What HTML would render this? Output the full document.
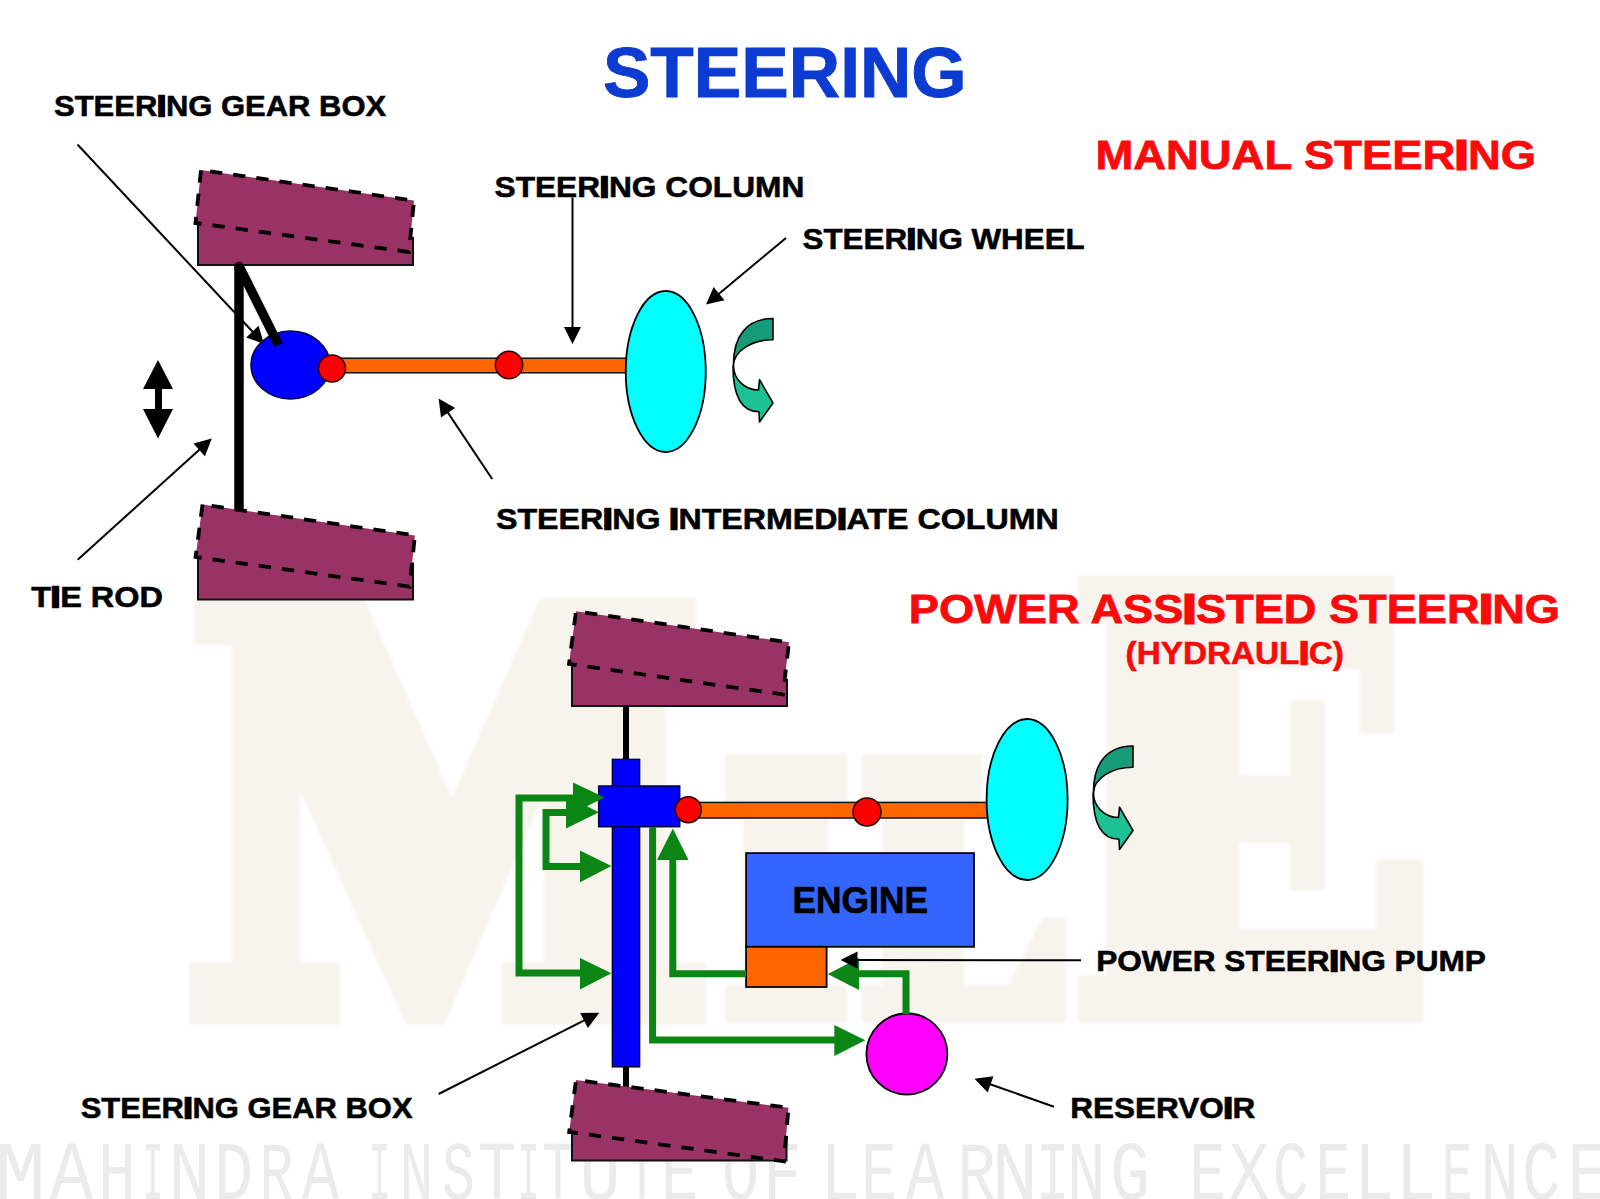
<!DOCTYPE html>
<html><head><meta charset="utf-8"><style>
html,body{margin:0;padding:0;background:#fff;width:1600px;height:1199px;overflow:hidden}
svg{display:block}
text{font-family:"Liberation Sans",sans-serif;font-weight:bold}
</style></head><body>
<svg width="1600" height="1199" viewBox="0 0 1600 1199">
<rect width="1600" height="1199" fill="#fff"/>
<defs><filter id="wb" x="-5%" y="-5%" width="110%" height="110%"><feGaussianBlur stdDeviation="1.8"/></filter></defs><g filter="url(#wb)">
<polygon points="197,601 362,601 452,805 542,601 693,601 693,642 663,642 663,965 703,965 703,1022 505,1022 505,965 547,965 547,779 442,1022 408,1022 297,777 297,965 337,965 337,1022 192,1022 192,965 235,965 235,642 197,642" fill="#f7f4ee" stroke="#f7f4ee" stroke-width="6" stroke-linejoin="round"/>
<polygon points="728,757 844,757 844,800 825,800 825,988 844,988 844,1020 728,1020 728,988 746,988 746,800 728,800" fill="#f7f4ee" stroke="#f7f4ee" stroke-width="6" stroke-linejoin="round"/>
<polygon points="865,757 979,757 979,800 961,800 961,988 1010,988 1044,921 1063,921 1063,1020 865,1020 865,988 885,988 885,800 865,800" fill="#f7f4ee" stroke="#f7f4ee" stroke-width="6" stroke-linejoin="round"/>
<polygon points="1081,578 1391,578 1391,731 1363,731 1363,666 1236,666 1236,778 1293,778 1293,703 1322,703 1322,887 1293,887 1293,840 1236,840 1236,932 1379,932 1379,862 1420,862 1420,1020 1081,1020 1081,978 1109,978 1109,620 1081,620" fill="#f7f4ee" stroke="#f7f4ee" stroke-width="6" stroke-linejoin="round"/>
</g>
<g fill="#ebebeb"><text x="-5.3" y="1199" font-size="83.5" textLength="51.3" lengthAdjust="spacingAndGlyphs" style="font-family:'Liberation Mono';font-weight:normal;stroke:none">M</text><text x="50.0" y="1199" font-size="83.5" textLength="43.0" lengthAdjust="spacingAndGlyphs" style="font-family:'Liberation Mono';font-weight:normal;stroke:none">A</text><text x="98.0" y="1199" font-size="83.5" textLength="38.0" lengthAdjust="spacingAndGlyphs" style="font-family:'Liberation Mono';font-weight:normal;stroke:none">H</text><text x="142.6" y="1199" font-size="83.5" textLength="20.9" lengthAdjust="spacingAndGlyphs" style="font-family:'Liberation Mono';font-weight:normal;stroke:none">I</text><text x="168.4" y="1199" font-size="83.5" textLength="42.1" lengthAdjust="spacingAndGlyphs" style="font-family:'Liberation Mono';font-weight:normal;stroke:none">N</text><text x="213.8" y="1199" font-size="83.5" textLength="39.5" lengthAdjust="spacingAndGlyphs" style="font-family:'Liberation Mono';font-weight:normal;stroke:none">D</text><text x="259.5" y="1199" font-size="83.5" textLength="33.9" lengthAdjust="spacingAndGlyphs" style="font-family:'Liberation Mono';font-weight:normal;stroke:none">R</text><text x="302.0" y="1199" font-size="83.5" textLength="37.0" lengthAdjust="spacingAndGlyphs" style="font-family:'Liberation Mono';font-weight:normal;stroke:none">A</text><text x="368.3" y="1199" font-size="83.5" textLength="22.4" lengthAdjust="spacingAndGlyphs" style="font-family:'Liberation Mono';font-weight:normal;stroke:none">I</text><text x="399.5" y="1199" font-size="83.5" textLength="34.0" lengthAdjust="spacingAndGlyphs" style="font-family:'Liberation Mono';font-weight:normal;stroke:none">N</text><text x="441.9" y="1199" font-size="83.5" textLength="32.8" lengthAdjust="spacingAndGlyphs" style="font-family:'Liberation Mono';font-weight:normal;stroke:none">S</text><text x="477.7" y="1199" font-size="83.5" textLength="38.7" lengthAdjust="spacingAndGlyphs" style="font-family:'Liberation Mono';font-weight:normal;stroke:none">T</text><text x="517.3" y="1199" font-size="83.5" textLength="22.4" lengthAdjust="spacingAndGlyphs" style="font-family:'Liberation Mono';font-weight:normal;stroke:none">I</text><text x="542.1" y="1199" font-size="83.5" textLength="31.9" lengthAdjust="spacingAndGlyphs" style="font-family:'Liberation Mono';font-weight:normal;stroke:none">T</text><text x="579.3" y="1199" font-size="83.5" textLength="41.6" lengthAdjust="spacingAndGlyphs" style="font-family:'Liberation Mono';font-weight:normal;stroke:none">U</text><text x="626.1" y="1199" font-size="83.5" textLength="31.9" lengthAdjust="spacingAndGlyphs" style="font-family:'Liberation Mono';font-weight:normal;stroke:none">T</text><text x="661.1" y="1199" font-size="83.5" textLength="37.1" lengthAdjust="spacingAndGlyphs" style="font-family:'Liberation Mono';font-weight:normal;stroke:none">E</text><text x="722.0" y="1199" font-size="83.5" textLength="37.1" lengthAdjust="spacingAndGlyphs" style="font-family:'Liberation Mono';font-weight:normal;stroke:none">O</text><text x="762.9" y="1199" font-size="83.5" textLength="38.6" lengthAdjust="spacingAndGlyphs" style="font-family:'Liberation Mono';font-weight:normal;stroke:none">F</text><text x="820.4" y="1199" font-size="83.5" textLength="39.8" lengthAdjust="spacingAndGlyphs" style="font-family:'Liberation Mono';font-weight:normal;stroke:none">L</text><text x="861.3" y="1199" font-size="83.5" textLength="35.8" lengthAdjust="spacingAndGlyphs" style="font-family:'Liberation Mono';font-weight:normal;stroke:none">E</text><text x="906.0" y="1199" font-size="83.5" textLength="38.0" lengthAdjust="spacingAndGlyphs" style="font-family:'Liberation Mono';font-weight:normal;stroke:none">A</text><text x="956.9" y="1199" font-size="83.5" textLength="38.7" lengthAdjust="spacingAndGlyphs" style="font-family:'Liberation Mono';font-weight:normal;stroke:none">R</text><text x="991.4" y="1199" font-size="83.5" textLength="46.7" lengthAdjust="spacingAndGlyphs" style="font-family:'Liberation Mono';font-weight:normal;stroke:none">N</text><text x="1036.0" y="1199" font-size="83.5" textLength="33.5" lengthAdjust="spacingAndGlyphs" style="font-family:'Liberation Mono';font-weight:normal;stroke:none">I</text><text x="1066.9" y="1199" font-size="83.5" textLength="38.7" lengthAdjust="spacingAndGlyphs" style="font-family:'Liberation Mono';font-weight:normal;stroke:none">N</text><text x="1110.3" y="1199" font-size="83.5" textLength="39.7" lengthAdjust="spacingAndGlyphs" style="font-family:'Liberation Mono';font-weight:normal;stroke:none">G</text><text x="1189.2" y="1199" font-size="83.5" textLength="36.4" lengthAdjust="spacingAndGlyphs" style="font-family:'Liberation Mono';font-weight:normal;stroke:none">E</text><text x="1228.9" y="1199" font-size="83.5" textLength="40.3" lengthAdjust="spacingAndGlyphs" style="font-family:'Liberation Mono';font-weight:normal;stroke:none">X</text><text x="1272.7" y="1199" font-size="83.5" textLength="35.8" lengthAdjust="spacingAndGlyphs" style="font-family:'Liberation Mono';font-weight:normal;stroke:none">C</text><text x="1315.3" y="1199" font-size="83.5" textLength="35.8" lengthAdjust="spacingAndGlyphs" style="font-family:'Liberation Mono';font-weight:normal;stroke:none">E</text><text x="1354.0" y="1199" font-size="83.5" textLength="40.2" lengthAdjust="spacingAndGlyphs" style="font-family:'Liberation Mono';font-weight:normal;stroke:none">L</text><text x="1395.9" y="1199" font-size="83.5" textLength="40.3" lengthAdjust="spacingAndGlyphs" style="font-family:'Liberation Mono';font-weight:normal;stroke:none">L</text><text x="1441.5" y="1199" font-size="83.5" textLength="31.2" lengthAdjust="spacingAndGlyphs" style="font-family:'Liberation Mono';font-weight:normal;stroke:none">E</text><text x="1480.5" y="1199" font-size="83.5" textLength="38.6" lengthAdjust="spacingAndGlyphs" style="font-family:'Liberation Mono';font-weight:normal;stroke:none">N</text><text x="1522.0" y="1199" font-size="83.5" textLength="38.7" lengthAdjust="spacingAndGlyphs" style="font-family:'Liberation Mono';font-weight:normal;stroke:none">C</text><text x="1567.6" y="1199" font-size="83.5" textLength="40.9" lengthAdjust="spacingAndGlyphs" style="font-family:'Liberation Mono';font-weight:normal;stroke:none">E</text></g>
<polygon points="198,212 413,238 413,265 198,265" fill="#993366" stroke="#111" stroke-width="2"/><polygon points="201,170 414,200.6 409,252 195.5,223" fill="#993366" stroke="#000" stroke-width="3.8" stroke-dasharray="12.3 11.05" stroke-dashoffset="14.2"/>
<polygon points="572,652 787,680 787,706 572,706" fill="#993366" stroke="#111" stroke-width="2"/><polygon points="576,611.3 789,642.3 783,694.4 569,664" fill="#993366" stroke="#000" stroke-width="3.8" stroke-dasharray="12.3 11.05" stroke-dashoffset="14.2"/>
<line x1="239" y1="267" x2="239" y2="512" stroke="#000" stroke-width="9.5"/>
<circle cx="239" cy="266.5" r="4.75" fill="#000"/>
<polygon points="198,549.5 413,563.5 413,599.5 198,599.5" fill="#993366" stroke="#111" stroke-width="2"/><polygon points="202.5,504.6 414.9,535.4 409.7,586.6 195.6,557" fill="#993366" stroke="#000" stroke-width="3.8" stroke-dasharray="12.3 11.05" stroke-dashoffset="14.2"/>
<ellipse cx="290.5" cy="365" rx="39.5" ry="34" fill="#0000ff" stroke="#000033" stroke-width="1.5"/>
<line x1="239" y1="266" x2="278.5" y2="345" stroke="#000" stroke-width="9.5"/>
<rect x="325" y="358.2" width="302" height="14.6" fill="#ff6600" stroke="#111" stroke-width="1.5"/>
<circle cx="332" cy="368.5" r="13.5" fill="#ff0000" stroke="#220000" stroke-width="1.5"/>
<circle cx="509" cy="365" r="13.7" fill="#ff0000" stroke="#220000" stroke-width="1.5"/>
<ellipse cx="665.75" cy="371.5" rx="40" ry="80.5" fill="#00ffff" stroke="#000" stroke-width="1.8"/>
<g transform="translate(0,0)"><path d="M773,318.5 L773,339.7 C751.2,339.7 733.5,351.3 733.5,365.7 C733,336 747,318.5 773,318.5 Z" fill="#169c78" stroke="#000" stroke-width="1.6" stroke-linejoin="round"/><path d="M733,365.7 C733,396 742,411.7 759,411.7 L759.5,422 L773,403 L759.5,379.7 L758.5,390 C744.7,390 733.5,379.1 733.5,365.7 Z" fill="#1cc294" stroke="#000" stroke-width="1.6" stroke-linejoin="round"/></g>
<polygon points="158,360 173,389 162,389 162,409 173,409 158,438.5 143,409 155,409 155,389 143,389" fill="#000"/>
<line x1="77.5" y1="144.5" x2="253.8" y2="333.0" stroke="#000" stroke-width="2"/><polygon points="264.0,344.0 246.2,337.4 258.6,325.8" fill="#000"/>
<line x1="572.5" y1="197.5" x2="572.5" y2="329.0" stroke="#000" stroke-width="2"/><polygon points="572.5,344.0 564.0,327.0 581.0,327.0" fill="#000"/>
<line x1="786" y1="238" x2="717.5" y2="294.9" stroke="#000" stroke-width="2"/><polygon points="706.0,304.5 713.6,287.1 724.5,300.2" fill="#000"/>
<line x1="492.2" y1="479" x2="446.9" y2="411.1" stroke="#000" stroke-width="2"/><polygon points="438.6,398.6 455.1,408.0 441.0,417.5" fill="#000"/>
<line x1="77.7" y1="559.7" x2="200.7" y2="448.6" stroke="#000" stroke-width="2"/><polygon points="211.8,438.5 204.9,456.2 193.5,443.6" fill="#000"/>
<line x1="626" y1="706" x2="626" y2="760" stroke="#000" stroke-width="6"/>
<line x1="626" y1="1066" x2="626" y2="1090" stroke="#000" stroke-width="6"/>
<polygon points="572,1115 786.5,1137 786.5,1160.5 572,1160.5" fill="#993366" stroke="#111" stroke-width="2"/><polygon points="576,1080 788.5,1107.7 784,1161.3 569.2,1132" fill="#993366" stroke="#000" stroke-width="3.8" stroke-dasharray="12.3 11.05" stroke-dashoffset="14.2"/>
<rect x="612.4" y="759.4" width="27.2" height="307.4" fill="#0000ff" stroke="#000033" stroke-width="1.5"/>
<rect x="598.7" y="786" width="81" height="40.7" fill="#0000ff" stroke="#000033" stroke-width="1.5"/>
<rect x="685" y="802.4" width="303" height="15.6" fill="#ff6600" stroke="#111" stroke-width="1.5"/>
<circle cx="688.3" cy="809.7" r="13" fill="#ff0000" stroke="#220000" stroke-width="1.5"/>
<circle cx="867" cy="812" r="14" fill="#ff0000" stroke="#220000" stroke-width="1.5"/>
<ellipse cx="1027.1" cy="799.5" rx="40.5" ry="80.5" fill="#00ffff" stroke="#000" stroke-width="1.8"/>
<g transform="translate(360,427.5)"><path d="M773,318.5 L773,339.7 C751.2,339.7 733.5,351.3 733.5,365.7 C733,336 747,318.5 773,318.5 Z" fill="#169c78" stroke="#000" stroke-width="1.6" stroke-linejoin="round"/><path d="M733,365.7 C733,396 742,411.7 759,411.7 L759.5,422 L773,403 L759.5,379.7 L758.5,390 C744.7,390 733.5,379.1 733.5,365.7 Z" fill="#1cc294" stroke="#000" stroke-width="1.6" stroke-linejoin="round"/></g>
<rect x="746.1" y="853.1" width="227.9" height="93.7" fill="#3366ff" stroke="#000" stroke-width="1.8"/>
<rect x="746.1" y="946.8" width="80.5" height="40.2" fill="#ff6600" stroke="#000" stroke-width="1.8"/>
<circle cx="906.9" cy="1054" r="40.5" fill="#ff00ff" stroke="#000" stroke-width="1.8"/>
<path d="M575,798 L519,798 L519,973 L582,973" fill="none" stroke="#0b8513" stroke-width="7" stroke-linejoin="miter"/>
<path d="M568,812.6 L546,812.6 L546,866.4 L582,866.4" fill="none" stroke="#0b8513" stroke-width="7" stroke-linejoin="miter"/>
<path d="M652.6,827 L652.6,1040 L837,1040" fill="none" stroke="#0b8513" stroke-width="7" stroke-linejoin="miter"/>
<path d="M746,973.7 L672.8,973.7 L672.8,858" fill="none" stroke="#0b8513" stroke-width="7" stroke-linejoin="miter"/>
<path d="M906,1014 L906,973.8 L857,973.8" fill="none" stroke="#0b8513" stroke-width="7" stroke-linejoin="miter"/>
<polygon points="566,796 599,812.3 566,828.5" fill="#0b8513"/>
<polygon points="573,782.5 604.7,797.5 573,813" fill="#0b8513"/>
<polygon points="580,850.5 611.4,866 580,882.2" fill="#0b8513"/>
<polygon points="580,958 611.4,973.3 580,989.6" fill="#0b8513"/>
<polygon points="834.3,1025 865.3,1040.2 834.3,1056" fill="#0b8513"/>
<polygon points="657,860.1 672.8,828.5 688.6,860.1" fill="#0b8513"/>
<polygon points="859,958 827.7,973.9 859,990" fill="#0b8513"/>
<line x1="1081" y1="960.2" x2="855.5" y2="960.0" stroke="#000" stroke-width="2"/><polygon points="840.5,960.0 857.5,951.5 857.5,968.5" fill="#000"/>
<line x1="1054" y1="1106.7" x2="988.6" y2="1083.7" stroke="#000" stroke-width="2"/><polygon points="974.5,1078.7 993.4,1076.3 987.7,1092.4" fill="#000"/>
<line x1="438.6" y1="1094" x2="585.8" y2="1019.6" stroke="#000" stroke-width="2"/><polygon points="599.2,1012.8 587.9,1028.1 580.2,1012.9" fill="#000"/>
<text x="602.92" y="97.48" font-size="70.19" fill="#0b3bd0" stroke="#0b3bd0" stroke-width="0.88" textLength="363.78" lengthAdjust="spacingAndGlyphs">STEERING</text>
<text x="54.00" y="115.70" font-size="29.83" fill="#000" stroke="#000" stroke-width="0.56" textLength="332.20" lengthAdjust="spacingAndGlyphs">STEER<tspan stroke-width="2.33">I</tspan>NG GEAR BOX</text>
<text x="494.50" y="196.70" font-size="30.40" fill="#000" stroke="#000" stroke-width="0.57" textLength="309.80" lengthAdjust="spacingAndGlyphs">STEER<tspan stroke-width="2.38">I</tspan>NG COLUMN</text>
<text x="802.50" y="249.20" font-size="30.11" fill="#000" stroke="#000" stroke-width="0.56" textLength="282.20" lengthAdjust="spacingAndGlyphs">STEER<tspan stroke-width="2.35">I</tspan>NG WHEEL</text>
<text x="1095.40" y="168.90" font-size="40.76" fill="#fa0a0a" stroke="#fa0a0a" stroke-width="0.76" textLength="440.70" lengthAdjust="spacingAndGlyphs">MANUAL STEER<tspan stroke-width="3.18">I</tspan>NG</text>
<text x="495.94" y="529.48" font-size="29.88" fill="#000" stroke="#000" stroke-width="0.56" textLength="562.78" lengthAdjust="spacingAndGlyphs">STEER<tspan stroke-width="2.33">I</tspan>NG <tspan stroke-width="2.33">I</tspan>NTERMED<tspan stroke-width="2.33">I</tspan>ATE COLUMN</text>
<text x="31.30" y="607.12" font-size="29.65" fill="#000" stroke="#000" stroke-width="0.56" textLength="131.70" lengthAdjust="spacingAndGlyphs">T<tspan stroke-width="2.32">I</tspan>E ROD</text>
<text x="908.82" y="623.48" font-size="40.69" fill="#fa0a0a" stroke="#fa0a0a" stroke-width="0.76" textLength="651.20" lengthAdjust="spacingAndGlyphs">POWER ASS<tspan stroke-width="3.18">I</tspan>STED STEER<tspan stroke-width="3.18">I</tspan>NG</text>
<text x="1125.56" y="663.70" font-size="30.98" fill="#fa0a0a" stroke="#fa0a0a" stroke-width="0.58" textLength="218.24" lengthAdjust="spacingAndGlyphs">(HYDRAUL<tspan stroke-width="2.42">I</tspan>C)</text>
<text x="792.56" y="913.14" font-size="36.59" fill="#000" stroke="#000" stroke-width="0.69" textLength="135.44" lengthAdjust="spacingAndGlyphs">ENGINE</text>
<text x="1096.20" y="971.26" font-size="29.75" fill="#000" stroke="#000" stroke-width="0.56" textLength="389.72" lengthAdjust="spacingAndGlyphs">POWER STEER<tspan stroke-width="2.32">I</tspan>NG PUMP</text>
<text x="1070.20" y="1118.34" font-size="29.65" fill="#000" stroke="#000" stroke-width="0.56" textLength="185.00" lengthAdjust="spacingAndGlyphs">RESERVO<tspan stroke-width="2.32">I</tspan>R</text>
<text x="80.72" y="1117.98" font-size="29.88" fill="#000" stroke="#000" stroke-width="0.56" textLength="331.84" lengthAdjust="spacingAndGlyphs">STEER<tspan stroke-width="2.33">I</tspan>NG GEAR BOX</text>
</svg>
</body></html>
